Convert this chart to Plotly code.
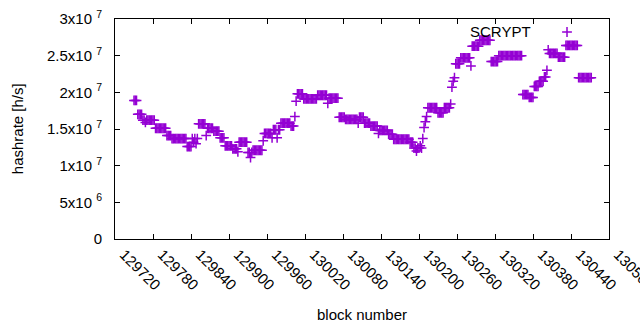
import plotly.graph_objects as go

# Hashrate readings (in units of 1e6 h/s), one every second block starting at block 129750
hashrate_mhs = [
    18.9, 18.9, 18.9,
    17.0, 17.0, 17.0, 17.0,
    16.2, 16.2, 15.9, 16.2, 16.2, 16.2, 16.2, 16.2, 16.2, 16.2,
    15.1, 15.1, 15.1, 15.1, 15.1, 15.1, 15.1, 15.1, 15.1,
    14.1, 14.1, 14.1, 14.1,
    13.7, 13.7, 13.7, 13.7, 13.7, 13.7, 13.7, 13.7, 13.7, 13.7, 13.7, 13.7,
    12.6, 12.6, 12.6, 12.6,
    13.7, 13.2, 13.7, 13.0, 13.7,
    15.7, 15.7, 15.7, 15.7, 15.7, 15.7,
    14.1,
    15.1, 15.1, 15.1, 15.1, 15.1,
    14.7, 14.7, 14.7, 14.7, 14.7,
    13.8, 13.8, 13.8, 13.8,
    12.7, 12.7, 12.7, 12.7, 12.7, 12.7,
    12.3, 12.3, 12.3, 12.3, 11.9,
    13.2, 13.2, 13.2, 13.2, 13.2, 13.2, 13.2,
    11.8, 11.8, 11.1, 11.8,
    12.1, 12.1, 12.1, 12.1, 12.1, 12.1, 12.1, 12.1,
    13.4,
    14.4, 14.4, 14.4, 14.4, 14.4, 14.4,
    13.8,
    14.9, 14.9, 14.9, 13.8, 14.9, 14.9,
    15.8, 15.8, 15.8, 15.8, 15.8, 15.8, 15.8, 15.8,
    15.4, 15.4, 15.4,
    16.7,
    18.8,
    19.8, 19.8, 19.8, 19.8, 19.8,
    19.1, 19.1, 19.1, 19.1, 19.1, 19.1, 19.1, 19.1, 19.1, 19.1, 19.1,
    19.6, 19.6, 19.6, 19.6, 19.6, 19.6, 19.6, 19.6,
    18.5,
    19.2, 19.2, 19.2, 19.2, 19.2, 19.2, 19.2, 19.2,
    16.6, 16.6, 16.6, 16.6, 16.6,
    16.3, 16.3, 16.3, 16.3, 16.3, 16.3, 16.3, 16.3, 16.3, 16.3,
    15.8,
    16.6, 16.6, 16.6, 16.6,
    15.8, 15.8, 15.8, 15.8, 15.8,
    15.4, 15.4, 15.4, 15.4, 15.4, 15.4,
    14.4, 14.8, 14.8, 14.8, 14.8, 14.8, 14.8, 14.8,
    14.3, 14.3, 14.3, 14.3,
    13.6, 13.6, 13.6, 13.6, 13.6, 13.6, 13.6, 13.6, 13.6, 13.6, 13.6, 13.6, 13.6,
    13.2, 13.2, 13.2,
    12.4, 12.4, 12.0, 12.4, 12.4, 12.7, 12.4,
    13.7, 15.2, 16.0, 16.7,
    17.9, 17.9, 17.9, 17.9, 17.9, 17.9, 17.9, 17.9,
    17.2, 17.2, 17.2, 17.2, 17.2,
    17.9, 17.9, 17.9, 17.9, 17.9,
    18.4,
    20.7, 21.5, 22.0,
    23.9, 23.9, 23.9, 23.9,
    24.7, 24.7, 24.7, 24.7, 24.7, 24.7, 24.7, 24.7,
    23.6,
    26.3, 26.3, 26.3, 26.3, 26.3, 26.3,
    27.1, 27.1, 27.1, 27.1, 27.1, 27.1, 27.1, 27.1, 27.1,
    24.2, 24.2, 24.2, 24.2, 24.2, 24.2,
    25.0, 25.0, 25.0, 25.0, 25.0, 25.0, 25.0, 25.0, 25.0, 25.0,
    25.0, 25.0, 25.0, 25.0, 25.0, 25.0, 25.0, 25.0, 25.0,
    19.7, 19.7, 19.7, 19.7, 19.7,
    19.3, 19.3, 19.3, 19.3,
    20.8, 20.8, 20.8, 20.8,
    21.5, 21.5, 21.5, 21.5,
    22.1, 22.1,
    23.0,
    25.8,
    25.3, 25.3, 25.3, 25.3, 25.3, 25.3, 25.3,
    24.8, 24.8, 24.8, 24.8, 24.8, 24.8,
    26.4, 26.4, 26.4, 26.4, 26.4, 26.4, 26.4, 26.4, 26.4, 26.4,
    22.0, 22.0, 22.0, 22.0, 22.0, 22.0, 22.0, 22.0, 22.0, 22.0, 22.0,
]
first_block = 129750
block_step = 2
blocks = list(range(first_block, first_block + block_step * len(hashrate_mhs), block_step))
hashrate = [v * 1e6 for v in hashrate_mhs]

series_name = "SCRYPT"
x_tick_values = [129720, 129780, 129840, 129900, 129960, 130020, 130080,
                 130140, 130200, 130260, 130320, 130380, 130440, 130500]
x_tick_labels = [str(v) for v in x_tick_values]
y_tick_values = [0, 5e6, 1e7, 1.5e7, 2e7, 2.5e7, 3e7]
y_tick_labels = ["0", "5x10 <sup>6</sup>", "1x10 <sup>7</sup>", "1.5x10 <sup>7</sup>",
                 "2x10 <sup>7</sup>", "2.5x10 <sup>7</sup>", "3x10 <sup>7</sup>"]

PURPLE = "#9400D3"
FONT = "Liberation Sans, Arial, sans-serif"
FS = 15

marker_style = dict(symbol="cross-thin", size=7, color=PURPLE,
                    line=dict(color=PURPLE, width=1.5))

fig = go.Figure()
fig.add_trace(go.Scatter(
    x=blocks, y=hashrate, mode="markers", name=series_name, showlegend=False,
    marker=marker_style,
))
# legend sample (gnuplot style: text then sample to its right)
fig.add_trace(go.Scatter(
    x=[0.915], y=[0.941], xaxis="x2", yaxis="y2", mode="markers", showlegend=False,
    hoverinfo="skip", marker=marker_style,
))

axis_common = dict(
    showline=True, linecolor="black", linewidth=1, mirror="allticks",
    ticks="inside", ticklen=5, tickcolor="black", tickwidth=1,
    showgrid=False, zeroline=False, automargin=False,
    ticklabeloverflow="allow",
    tickfont=dict(family=FONT, size=FS, color="black"),
)

fig.update_layout(
    width=640, height=330, autosize=False,
    margin=dict(l=115, r=31, t=19, b=91, autoexpand=False),
    paper_bgcolor="white", plot_bgcolor="white",
    font=dict(family=FONT, size=FS, color="black"),
    xaxis=dict(range=[129720, 130500], tickvals=x_tick_values, ticktext=x_tick_labels,
               tickangle=45, ticklabelshift=9, **axis_common),
    yaxis=dict(range=[0, 3e7], tickvals=y_tick_values, ticktext=y_tick_labels,
               ticklabelstandoff=9, **axis_common),
    xaxis2=dict(overlaying="x", range=[0, 1], visible=False),
    yaxis2=dict(overlaying="y", range=[0, 1], visible=False),
    annotations=[
        dict(text=series_name, xref="paper", yref="paper", x=0.846, y=0.941,
             xanchor="right", yanchor="middle", showarrow=False,
             font=dict(family=FONT, size=FS, color="black")),
        dict(text="hashrate [h/s]", xref="paper", yref="paper", x=-0.198, y=0.5,
             xanchor="center", yanchor="middle", textangle=-90, showarrow=False,
             font=dict(family=FONT, size=FS, color="black")),
        dict(text="block number", xref="paper", yref="paper", x=0.5, y=-0.345,
             xanchor="center", yanchor="middle", showarrow=False,
             font=dict(family=FONT, size=FS, color="black")),
    ],
)

fig.write_html("out.html", config={"displayModeBar": False},
               post_script="document.body.style.margin='0px';document.body.style.overflow='hidden';")
